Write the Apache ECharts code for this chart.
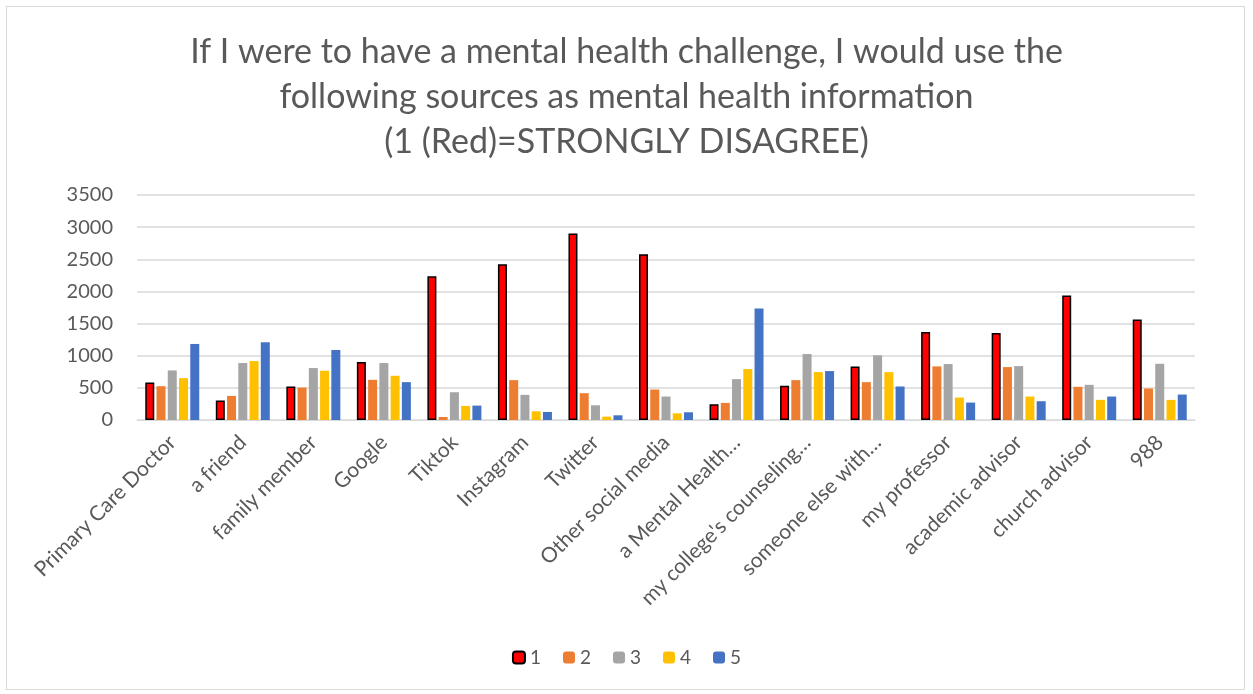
<!DOCTYPE html>
<html>
<head>
<meta charset="utf-8">
<script src="https://cdn.jsdelivr.net/npm/echarts@6/dist/echarts.min.js"></script>
<style>
html,body{margin:0;padding:0;background:#fff;}
#frame{position:absolute;left:6px;top:6px;width:1239px;height:684px;border:1px solid #d9d9d9;box-sizing:border-box;}
#chart{position:absolute;left:0;top:0;width:1253px;height:694px;}
</style>
</head>
<body>
<div id="frame"></div>
<div id="chart"></div>
<script>
const categories = ["Primary Care Doctor","a friend","family member","Google","Tiktok","Instagram","Twitter","Other social media","a Mental Health…","my college's counseling…","someone else with…","my professor","academic advisor","church advisor","988"];
const seriesNames = ["1","2","3","4","5"];
const s1 = [583, 302, 521, 901, 2235, 2423, 2902, 2579, 245, 531, 834, 1370, 1355, 1938, 1563];
const s2 = [526, 375, 505, 625, 47, 620, 417, 474, 266, 620, 589, 834, 823, 516, 490];
const s3 = [771, 886, 808, 886, 432, 391, 229, 365, 636, 1026, 1006, 870, 839, 547, 875];
const s4 = [651, 917, 766, 688, 219, 135, 52, 104, 792, 745, 745, 349, 365, 313, 313];
const s5 = [1183, 1209, 1089, 589, 224, 125, 73, 120, 1735, 761, 521, 271, 292, 365, 396];
const yTicks = [0, 500, 1000, 1500, 2000, 2500, 3000, 3500];
const colors = ["#FF0000", "#ED7D31", "#A5A5A5", "#FFC000", "#4472C4"];
const titleLines = ["If I were to have a mental health challenge, I would use the", "following sources as mental health information", "(1 (Red)=STRONGLY DISAGREE)"];

const allData = [s1, s2, s3, s4, s5];
const chart = echarts.init(document.getElementById('chart'));
const font = 'Lato, "Open Sans", sans-serif';
chart.setOption({
  animation: false,
  title: {
    text: titleLines.join('\n'),
    left: 'center',
    top: 25,
    textStyle: { fontFamily: font, fontSize: 34, fontWeight: 'normal', color: '#595959', lineHeight: 45 }
  },
  legend: {
    data: seriesNames,
    bottom: 22,
    left: 'center',
    itemWidth: 12,
    itemHeight: 12,
    itemGap: 22,
    textStyle: { fontFamily: font, fontSize: 19, color: '#595959' }
  },
  grid: { left: 137, right: 58, top: 195, bottom: 274, containLabel: false },
  xAxis: {
    type: 'category',
    data: categories,
    axisLine: { lineStyle: { color: '#d9d9d9', width: 1 } },
    axisTick: { show: false },
    axisLabel: { rotate: 45, interval: 0, fontFamily: font, fontSize: 21, color: '#595959', margin: 19 }
  },
  yAxis: {
    type: 'value',
    min: yTicks[0],
    max: yTicks[yTicks.length - 1],
    interval: 500,
    axisLine: { show: false },
    axisTick: { show: false },
    splitLine: { lineStyle: { color: '#d9d9d9', width: 1.5 } },
    axisLabel: { fontFamily: font, fontSize: 20, color: '#595959', margin: 24, formatter: v => String(v) }
  },
  series: seriesNames.map((n, i) => ({
    name: n,
    type: 'bar',
    data: allData[i],
    barWidth: 9,
    barGap: '25%',
    itemStyle: i === 0
      ? { color: colors[i], borderColor: '#000', borderWidth: 1.5 }
      : { color: colors[i] }
  }))
});
</script>
</body>
</html>
